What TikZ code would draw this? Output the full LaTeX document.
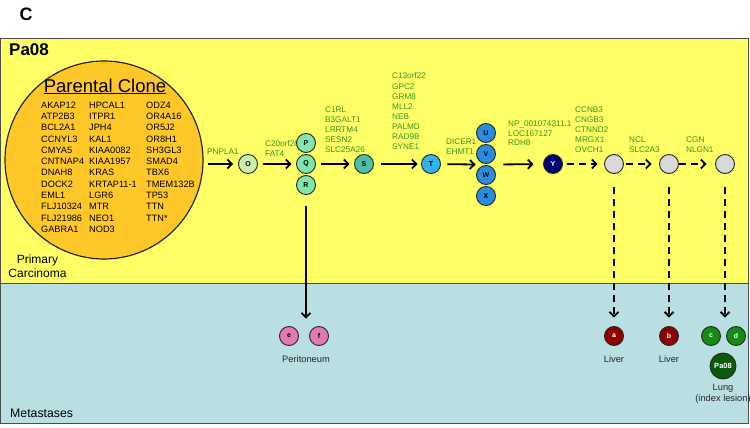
\documentclass[tikz,border=0pt]{standalone}
\usepackage{fontspec}
\setmainfont{Liberation Sans}
\usetikzlibrary{arrows.meta,calc}
\definecolor{yel}{RGB}{255,255,102}
\definecolor{met}{RGB}{185,223,227}
\definecolor{pcfill}{RGB}{255,200,40}
\definecolor{lg}{RGB}{55,150,30}
\definecolor{cO}{RGB}{204,240,170}
\definecolor{cP}{RGB}{130,230,170}
\definecolor{cS}{RGB}{80,190,165}
\definecolor{cT}{RGB}{50,180,240}
\definecolor{cU}{RGB}{40,140,225}
\definecolor{cY}{RGB}{0,0,110}
\definecolor{cG}{RGB}{217,217,217}
\definecolor{cE}{RGB}{226,120,180}
\definecolor{cA}{RGB}{140,0,0}
\definecolor{cC}{RGB}{20,140,20}
\definecolor{cPa}{RGB}{10,90,10}
\newcommand\mystack[6]{%
  \foreach \g [count=\i] in {#6} {\node[#1] (#2\i) at (#3,{#4+(\i-1)*#5}) {\g};}}
\begin{document}
\begin{tikzpicture}[x=1pt,y=-1pt,
  mut/.style={circle, draw=black!85, line width=0.9pt, minimum size=19pt, inner sep=0pt, font=\fontsize{7}{8}\selectfont\bfseries},
  glab/.style={text=lg, font=\fontsize{8.2}{10}\selectfont, inner sep=0pt, anchor=base west},
  gene/.style={font=\fontsize{9.2}{11}\selectfont, inner sep=0pt, anchor=base west},
  tlab/.style={font=\fontsize{9.3}{11}\selectfont, inner sep=0pt, text=black!85},
  arr/.style={line width=1.8pt, -{Straight Barb[length=4.5pt,width=9pt]}},
  darr/.style={arr, dash pattern=on 7pt off 5pt}]
\useasboundingbox (0,0) rectangle (750,428);
% panels
\draw[fill=yel, draw=black!70, line width=0.8pt] (0.5,38) rectangle (748,283);
\draw[fill=met, draw=black!70, line width=0.8pt] (0.5,283) rectangle (748,423);
\node[font=\fontsize{18}{20}\selectfont\bfseries] (C) at (26,14) {C};
\node[font=\fontsize{17}{19}\selectfont\bfseries, anchor=west, inner sep=0pt] (pa) at (9,50) {Pa08};
\node[font=\fontsize{12}{14}\selectfont, align=center, inner sep=0pt] (prim) at (37.5,266) {Primary\\Carcinoma};
\node[font=\fontsize{12.3}{14}\selectfont, anchor=west, inner sep=0pt] (meta) at (10,413) {Metastases};
% parental clone
\node[circle, draw=black!85, line width=1.2pt, fill=pcfill, minimum size=198pt, inner sep=0pt] (pc) at (104,160) {};
\node[font=\fontsize{18.5}{20}\selectfont, inner sep=0pt] (pct) at (105,86.5) {\underline{Parental Clone}};
\mystack{gene}{ga}{41}{108.3}{11.27}{AKAP12,ATP2B3,BCL2A1,CCNYL3,CMYA5,CNTNAP4,DNAH8,DOCK2,EML1,FLJ10324,FLJ21986,GABRA1}
\mystack{gene}{gb}{89}{108.3}{11.27}{HPCAL1,ITPR1,JPH4,KAL1,KIAA0082,KIAA1957,KRAS,KRTAP11-1,LGR6,MTR,NEO1,NOD3}
\mystack{gene}{gc}{146}{108.3}{11.27}{ODZ4,OR4A16,OR5J2,OR8H1,SH3GL3,SMAD4,TBX6,TMEM132B,TP53,TTN,TTN*}
% green labels
\mystack{glab}{la}{207}{154}{10}{PNPLA1}
\mystack{glab}{lb}{265}{146.2}{10}{C20orf20,FAT4}
\mystack{glab}{lc}{325}{112}{10}{C1RL,B3GALT1,LRRTM4,SESN2,SLC25A26}
\mystack{glab}{ld}{392}{79}{10.1}{C13orf22,GPC2,GRM8,MLL2,NEB,PALMD,RAD9B,SYNE1}
\mystack{glab}{le}{446}{144}{10}{DICER1,EHMT1}
\mystack{glab}{lf}{508}{126.5}{9.5}{NP\_001074311.1,LOC167127,RDH8}
\mystack{glab}{lh}{575}{112}{10}{CCNB3,CNGB3,CTNND2,MRGX1,OVCH1}
\mystack{glab}{li}{629}{142}{10}{NCL,SLC2A3}
\mystack{glab}{lj}{686}{142}{10}{CGN,NLGN1}
% mutation nodes
\node[mut, fill=cO] (O) at (248,164) {O};
\node[mut, fill=cP] (P) at (306,143) {P};
\node[mut, fill=cP] (Q) at (306,164) {Q};
\node[mut, fill=cP] (R) at (306,185) {R};
\node[mut, fill=cS] (S) at (364,164) {S};
\node[mut, fill=cT] (T) at (431,164) {T};
\node[mut, fill=cU] (U) at (486,133) {U};
\node[mut, fill=cU] (V) at (486,154) {V};
\node[mut, fill=cU] (W) at (486,175) {W};
\node[mut, fill=cU] (X) at (486,196) {X};
\node[mut, fill=cY, text=white] (Y) at (553,164) {Y};
\node[mut, fill=cG] (g1) at (614,164) {};
\node[mut, fill=cG] (g2) at (669,164) {};
\node[mut, fill=cG] (g3) at (725,164) {};
% metastases
\node[mut, fill=cE] (e) at (289,336) {e};
\node[mut, fill=cE] (f) at (319,336) {f};
\node[mut, fill=cA, text=white] (a) at (614,336) {a};
\node[mut, fill=cA, text=white] (b) at (669,336) {b};
\node[mut, fill=cC, text=white] (c) at (711,336) {c};
\node[mut, fill=cC, text=white] (d) at (736,336) {d};
\node[mut, fill=cPa, text=white, minimum size=26pt, font=\fontsize{7.5}{8}\selectfont\bfseries] (pa8) at (723,366) {Pa08};
\node[tlab] (lper) at (306,359) {Peritoneum};
\node[tlab] (lliv1) at (614,359) {Liver};
\node[tlab] (lliv2) at (669,359) {Liver};
\node[tlab, align=center] (llung) at (723,393.5) {Lung\\(index lesion)};
% arrows
\coordinate (vw) at ($(V.west)!0.5!(W.west)$);
\coordinate (vwe) at ($(V.east)!0.5!(W.east)$);
\coordinate (pcs) at (pc.east |- O);
\coordinate (eftop) at (R |- e.north);
\draw[arr, shorten <=4pt, shorten >=5pt] (pcs) -- (O);
\draw[arr, shorten <=5.5pt, shorten >=4.5pt] (O) -- (Q);
\draw[arr, shorten <=5.5pt, shorten >=4.5pt] (Q) -- (S);
\draw[arr, shorten <=7.5pt, shorten >=3.5pt] (S) -- (T);
\draw[arr, shorten <=6.5pt, shorten >=0.5pt] (T) -- (vw);
\draw[arr, shorten <=7.5pt, shorten >=9.5pt] (vwe) -- (Y);
\draw[darr, shorten <=4.5pt, shorten >=6.5pt] (Y) -- (g1);
\draw[darr, shorten <=2.5pt, shorten >=7.5pt] (g1) -- (g2);
\draw[darr, shorten <=0.5pt, shorten >=8.5pt] (g2) -- (g3);
\draw[arr, shorten <=11.5pt, shorten >=7.5pt] (R) -- (eftop);
\draw[darr, shorten <=13.5pt, shorten >=8.5pt] (g1) -- (a);
\draw[darr, shorten <=13.5pt, shorten >=8.5pt] (g2) -- (b);
\draw[darr, shorten <=13.5pt, shorten >=8.5pt] (g3 |- g3.south) -- (g3 |- c.north);
\end{tikzpicture}
\end{document}
